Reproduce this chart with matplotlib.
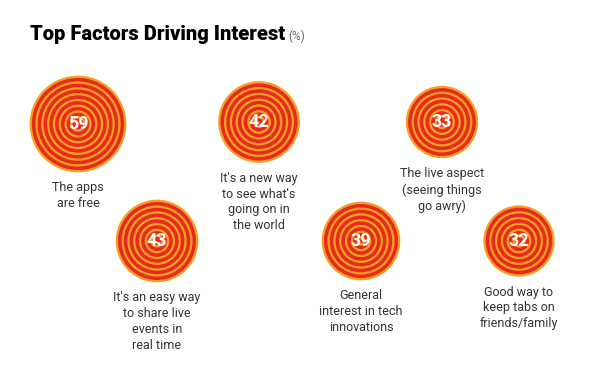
import numpy as np
import matplotlib.pyplot as plt
from matplotlib.patches import Circle

plt.rcParams['font.family'] = ['Roboto', 'DejaVu Sans']

# --- data ---
values = [59, 42, 33, 43, 39, 32]
labels = [
    "The apps\nare free",
    "It's a new way\nto see what's\ngoing on in\nthe world",
    "The live aspect\n(seeing things\ngo awry)",
    "It's an easy way\nto share live\nevents in\nreal time",
    "General\ninterest in tech\ninnovations",
    "Good way to\nkeep tabs on\nfriends/family",
]

# layout (pixel positions of bubble centres)
centers = [(78, 124), (259, 122), (442, 122), (157, 241), (361, 241), (519, 241)]

RED = "#e8291d"
ORANGE = "#f5a023"

fig = plt.figure(figsize=(6, 3.84), dpi=100)
ax = fig.add_axes([0, 0, 1, 1])
ax.set_xlim(0, 600)
ax.set_ylim(384, 0)
ax.axis("off")

# radius from value (area-proportional)
k = 6.3
period = 5.8
orange_w = 2.3
for v, lab, (cx, cy) in zip(values, labels, centers):
    r = k * np.sqrt(v)
    rr = r
    while rr > 4:
        ax.add_patch(Circle((cx, cy), rr, facecolor=ORANGE, edgecolor="none"))
        ax.add_patch(Circle((cx, cy), rr - orange_w, facecolor=RED, edgecolor="none"))
        rr -= period
    ax.text(cx, cy, str(v), color="white", fontsize=13, fontweight="bold",
            ha="center", va="center")
    ax.text(cx, cy + r + 9, lab, color="#333333", fontsize=9,
            ha="center", va="top", linespacing=1.28)

fig.text(30 / 600, 1 - 40 / 384, "Top Factors Driving Interest", fontsize=14.5,
         fontweight="black", color="black", ha="left", va="baseline")
fig.text(288 / 600, 1 - 40 / 384, "(%)", fontsize=8.5, color="#666666",
         ha="left", va="baseline")

fig.savefig("out.png", dpi=100, facecolor="white")
